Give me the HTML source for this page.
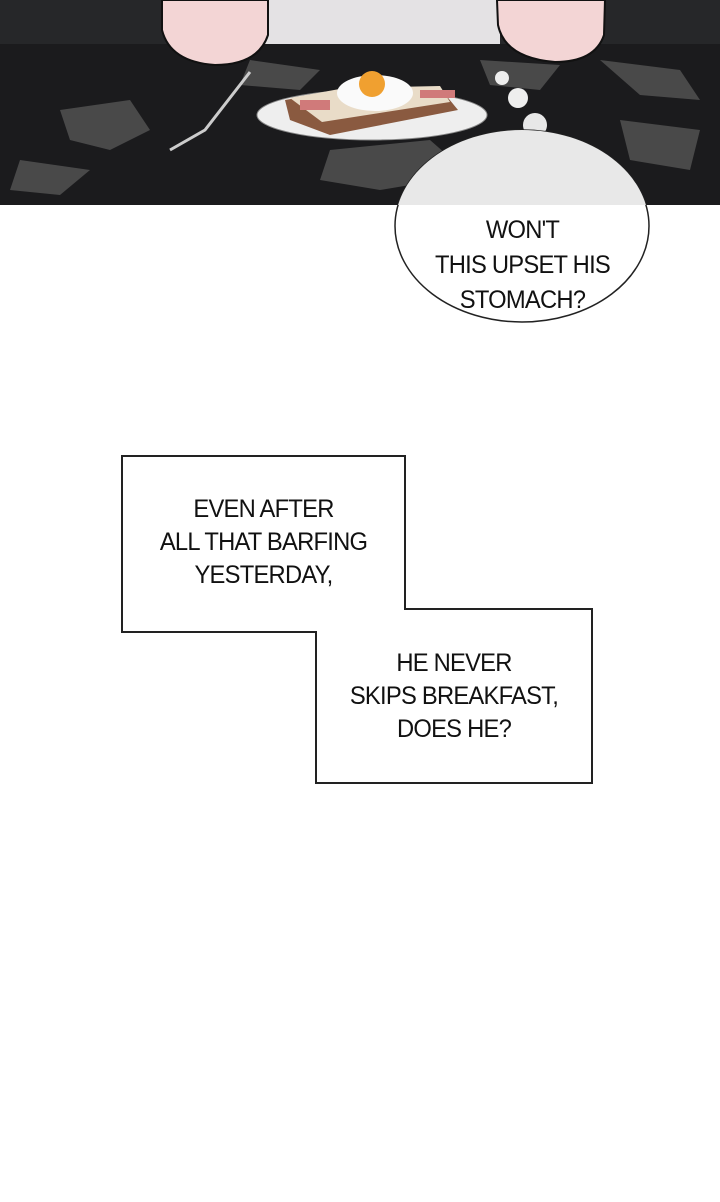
<!DOCTYPE html>
<html><head><style>
body{margin:0;width:720px;height:1202px;background:#fff;overflow:hidden;position:relative;font-family:"Liberation Sans",sans-serif}
.t{position:absolute;text-align:center;font-size:25px;line-height:33px;color:#111;letter-spacing:-0.8px;transform:scaleX(0.95)}
</style></head><body>
<svg width="720" height="1202" style="position:absolute;left:0;top:0">
<defs><clipPath id="c"><rect x="0" y="0" width="720" height="205"/></clipPath></defs>
<rect x="0" y="0" width="720" height="205" fill="#1b1b1d"/>
<rect x="0" y="0" width="720" height="44" fill="#262729"/>
<g fill="#555" opacity="0.8">
<path d="M60 110 L130 100 L150 130 L110 150 L70 140Z"/>
<path d="M330 150 L430 140 L470 175 L380 190 L320 180Z"/>
<path d="M600 60 L680 70 L700 100 L640 95Z"/>
<path d="M20 160 L90 170 L60 195 L10 190Z"/>
<path d="M250 60 L320 70 L300 90 L240 85Z"/>
<path d="M620 120 L700 130 L690 170 L630 160Z"/>
<path d="M480 60 L560 65 L540 90 L490 85Z"/>
</g>
<rect x="265" y="0" width="235" height="44" fill="#e4e2e4"/>
<path d="M162 0 L268 0 L268 35 Q258 65 215 65 Q170 62 162 30Z" fill="#f3d5d5" stroke="#111" stroke-width="2"/>
<path d="M497 0 L605 0 L604 35 Q595 62 555 62 Q505 58 498 25Z" fill="#f3d5d5" stroke="#111" stroke-width="2"/>
<ellipse cx="372" cy="115" rx="115" ry="25" fill="#eee" stroke="#888"/>
<path d="M285 100 L345 90 L440 88 L458 110 L330 135 L290 120Z" fill="#8a5a40"/>
<path d="M290 98 L345 88 L440 86 L450 102 L322 122Z" fill="#e9dcc8"/>
<ellipse cx="375" cy="93" rx="38" ry="18" fill="#fafafa"/>
<circle cx="372" cy="84" r="13" fill="#f0a030"/>
<rect x="300" y="100" width="30" height="10" fill="#d07a7a"/>
<rect x="420" y="90" width="35" height="8" fill="#d07a7a"/>
<path d="M250 72 L205 130 L170 150" stroke="#ccc" stroke-width="3" fill="none"/>
<circle cx="502" cy="78" r="7" fill="#eee"/>
<circle cx="518" cy="98" r="10" fill="#eee"/>
<circle cx="535" cy="125" r="12" fill="#e8e8e8"/>
<ellipse cx="522" cy="226" rx="127" ry="96" fill="#fff" stroke="#222" stroke-width="1.5"/>
<ellipse cx="522" cy="226" rx="127" ry="96" fill="#e8e8e8" clip-path="url(#c)"/>
</svg>
<div class="t" style="left:395px;top:213px;width:255px;line-height:35px">WON'T<br>THIS UPSET HIS<br>STOMACH?</div>
<svg width="720" height="1202" style="position:absolute;left:0;top:0">
<path d="M122 456 H405 V609 H592 V783 H316 V632 H122 Z" fill="#fff" stroke="#222" stroke-width="2"/>
</svg>
<div class="t" style="left:122px;top:493px;width:283px">EVEN AFTER<br>ALL THAT BARFING<br>YESTERDAY,</div>
<div class="t" style="left:316px;top:647px;width:276px">HE NEVER<br>SKIPS BREAKFAST,<br>DOES HE?</div>
</body></html>
